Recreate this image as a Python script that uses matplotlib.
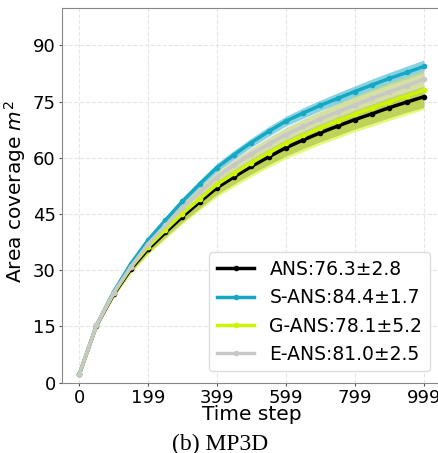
import matplotlib

matplotlib.use("Agg")
import matplotlib.pyplot as plt
import numpy as np

# time steps where the curves were sampled
steps = [0, 50, 100, 150, 199, 250, 299, 350, 399, 450, 499,
         550, 599, 650, 699, 750, 799, 850, 899, 950, 999]

ans_mean = [2.2, 15.2, 23.6, 30.4, 35.6, 40.1, 44.3, 48.3, 52.0, 55.0, 57.7,
            60.3, 62.7, 64.8, 66.7, 68.5, 70.2, 71.8, 73.4, 74.9, 76.3]
ans_std = [0.0, 0.3, 0.6, 0.9, 1.1, 1.3, 1.5, 1.7, 1.8, 1.9, 2.0,
           2.1, 2.2, 2.3, 2.4, 2.5, 2.5, 2.6, 2.7, 2.7, 2.8]

sans_mean = [2.2, 15.4, 24.3, 31.8, 38.0, 43.4, 48.4, 53.1, 57.4, 60.9, 64.1,
             67.1, 69.8, 72.0, 74.0, 75.9, 77.7, 79.5, 81.2, 82.8, 84.4]
sans_std = [0.0, 0.2, 0.4, 0.5, 0.7, 0.8, 0.9, 1.0, 1.1, 1.2, 1.2,
            1.3, 1.3, 1.4, 1.4, 1.5, 1.5, 1.6, 1.6, 1.7, 1.7]

gans_mean = [2.2, 15.3, 23.9, 30.8, 36.2, 40.8, 45.1, 49.1, 52.9, 55.9, 58.7,
             61.4, 63.9, 66.0, 68.0, 69.9, 71.7, 73.4, 75.0, 76.6, 78.1]
gans_std = [0.0, 0.6, 1.1, 1.6, 2.0, 2.4, 2.7, 3.0, 3.3, 3.5, 3.7,
            3.9, 4.1, 4.3, 4.4, 4.6, 4.7, 4.9, 5.0, 5.1, 5.2]

eans_mean = [2.2, 15.3, 24.0, 31.0, 37.0, 42.0, 46.6, 50.9, 54.8, 58.2, 61.0,
             63.7, 66.2, 68.4, 70.4, 72.3, 74.1, 75.9, 77.6, 79.3, 81.0]
eans_std = [0.0, 0.3, 0.5, 0.8, 1.0, 1.2, 1.3, 1.5, 1.6, 1.7, 1.8,
            1.9, 2.0, 2.1, 2.1, 2.2, 2.3, 2.3, 2.4, 2.4, 2.5]

labels = ["ANS:76.3\u00b12.8", "S-ANS:84.4\u00b11.7",
          "G-ANS:78.1\u00b15.2", "E-ANS:81.0\u00b12.5"]
colors = ["#000000", "#14a8c4", "#ccf500", "#c8c8c8"]
band_alpha = [0.3, 0.5, 0.5, 0.5]

xticks = [0, 199, 399, 599, 799, 999]
yticks = [0, 15, 30, 45, 60, 75, 90]

fig = plt.figure(figsize=(4.39, 4.53), dpi=100)
ax = fig.add_axes([62 / 439, 70.3 / 453, 379 / 439, 374.7 / 453])

x = np.array(steps)
series = [(ans_mean, ans_std), (sans_mean, sans_std),
          (gans_mean, gans_std), (eans_mean, eans_std)]
for (m, s), lab, c, a in zip(series, labels, colors, band_alpha):
    m = np.array(m)
    s = np.array(s)
    ax.fill_between(x, m - s, m + s, color=c, alpha=a, lw=0)
    ax.plot(x, m, color=c, lw=2.5, marker="o", markersize=3, label=lab)

ax.set_xlim(-50, 1049)
ax.set_ylim(0, 100)
ax.set_xticks(xticks)
ax.set_yticks(yticks)
ax.tick_params(labelsize=13, color="#555555", length=2.5, pad=2)
ax.grid(True, ls="--", color="#e6e6e6", lw=0.8)
ax.set_axisbelow(True)
for sp in ax.spines.values():
    sp.set_color("#888888")

ax.set_xlabel("Time step", fontsize=14.5)
ax.set_ylabel("Area coverage $m^2$", fontsize=14.5)
ax.xaxis.set_label_coords(0.5, -0.06)
ax.yaxis.set_label_coords(-0.09, 0.51)

ax.legend(loc="lower right", fontsize=13.5, framealpha=1, edgecolor="#dddddd",
          borderaxespad=0.6, handlelength=2.0, labelspacing=0.5)

fig.text(220 / 439, 3 / 453, "(b) MP3D", ha="center", va="baseline",
         fontsize=17, family="Liberation Serif")

fig.savefig("out.png", dpi=100)
